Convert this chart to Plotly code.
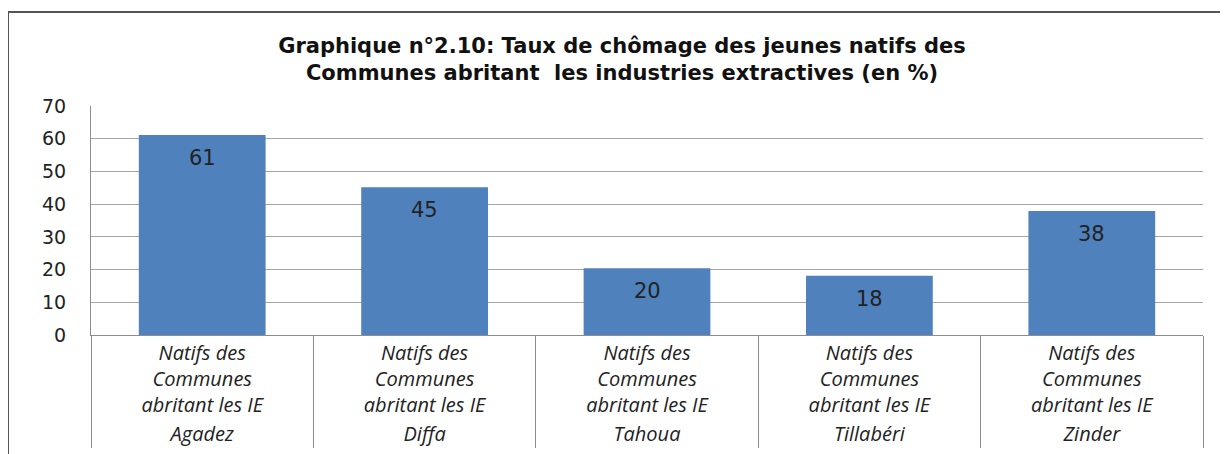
import plotly.graph_objects as go

regions = ["Agadez", "Diffa", "Tahoua", "Tillabéri", "Zinder"]
group_label = "Natifs des<br>Communes<br>abritant les IE"
values = [61.1, 45.2, 20.4, 18.1, 37.9]
y_ticks = [0, 10, 20, 30, 40, 50, 60, 70]
title_text = ("Graphique n°2.10: Taux de chômage des jeunes natifs des<br>"
              "Communes abritant  les industries extractives (en %)")

# page body has an 8px margin, so figure coords = page coords - 8
W, H = 1220, 446
ML, MR, MT, MB = 83, 25, 98, 119
pw, ph = W - ML - MR, H - MT - MB

fig = go.Figure()
fig.add_trace(go.Bar(
    x=[regions, [group_label] * len(regions)],
    y=values,
    marker=dict(color="#4F81BD", line=dict(width=0)),
    width=0.57,
    hoverinfo="skip",
))

for i, v in enumerate(values):
    fig.add_annotation(x=i, y=v, xref="x", yref="y", text=f"{v:.0f}",
                       showarrow=False, yshift=-23, yanchor="middle",
                       font=dict(family="DejaVu Sans", size=21, color="#222222"))

# outer chart frame
fig.add_shape(type="rect", xref="paper", yref="paper",
              x0=(0 - ML) / pw, x1=(W + 10 - ML) / pw,
              y0=-(MB + 10) / ph, y1=1 + (MT - 4) / ph,
              line=dict(color="#555555", width=2), layer="below")

fig.update_layout(
    width=W, height=H,
    margin=dict(l=ML, r=MR, t=MT, b=MB, pad=0, autoexpand=False),
    paper_bgcolor="white", plot_bgcolor="white",
    showlegend=False,
    title=dict(text=title_text, x=614 / W, xanchor="center",
               y=1 - 45 / H, yanchor="middle",
               font=dict(family="DejaVu Sans", size=21, color="#111111", weight="bold")),
    xaxis=dict(
        type="multicategory", automargin=False,
        showline=True, linecolor="#8c8c8c", linewidth=1,
        showdividers=True, dividercolor="#8c8c8c", dividerwidth=1,
        tickfont=dict(family="Open Sans", size=20, color="#222222", style="italic"),
        showgrid=False, ticks="",
    ),
    yaxis=dict(
        range=[0, 70], tickvals=y_ticks, ticktext=[str(t) for t in y_ticks],
        automargin=False,
        showgrid=True, gridcolor="#a6a6a6", gridwidth=1,
        showline=True, linecolor="#8c8c8c", linewidth=1,
        zeroline=False, ticks="", ticklabelstandoff=20,
        tickfont=dict(family="DejaVu Sans", size=19, color="#222222"),
    ),
)

fig.write_html("out.html")
